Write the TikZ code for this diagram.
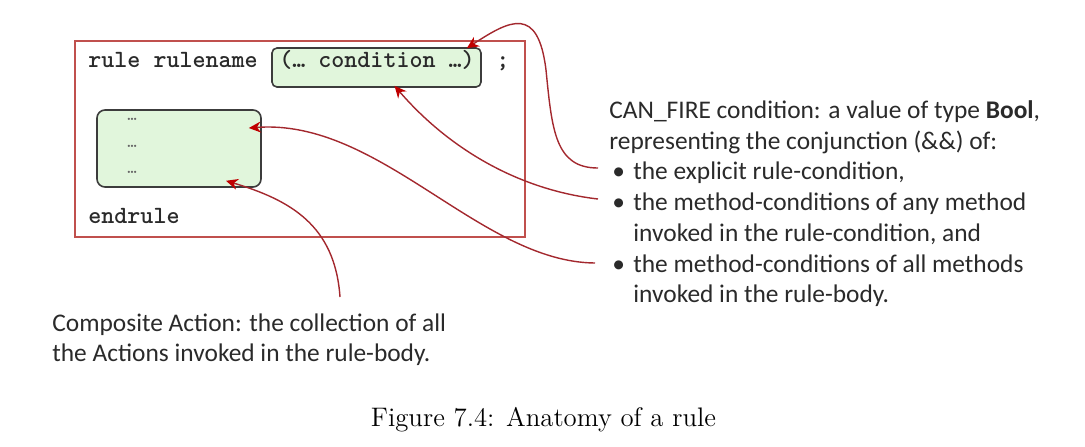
\documentclass[tikz,border=0pt]{standalone}
\usepackage{fontspec}
\newfontfamily\calib{Carlito}
\usetikzlibrary{arrows.meta,calc}
\definecolor{boxred}{HTML}{C0504D}
\definecolor{curvered}{HTML}{A3282E}
\definecolor{headred}{HTML}{C00000}
\definecolor{greenfill}{HTML}{E1F6DC}
\definecolor{greenedge}{HTML}{3C3C3C}
\definecolor{txt}{HTML}{2A2A2A}
\begin{document}
\begin{tikzpicture}[x=0.5pt,y=-0.5pt,
  outerbox/.style={draw=boxred, line width=1pt, minimum width=225pt, minimum height=98pt, inner sep=0pt},
  greenbox/.style={draw=greenedge, fill=greenfill, line width=0.8pt, inner sep=0pt},
  code/.style={font=\ttfamily\bfseries\fontsize{12.4}{14}\selectfont, text=txt, inner sep=0pt},
  dots/.style={font=\ttfamily\fontsize{9}{10}\selectfont, text=black!60, inner sep=0pt, anchor=base west},
  note/.style={font=\calib\fontsize{12.7}{15.4}\selectfont, text=txt, inner sep=0pt, anchor=base west},
  callout/.style={draw=curvered, line width=0.7pt, -{Stealth[length=6pt,width=5.5pt,color=headred]}},
]
\useasboundingbox (0,0) rectangle (1085,446);

% boxes
\node[outerbox] (rule) at (300,139) {};
\node[greenbox, rounded corners=2.5pt, minimum width=104.5pt, minimum height=19.5pt] (cond) at (376.5,67.5) {};
\node[greenbox, rounded corners=4pt, minimum width=82pt, minimum height=38.5pt] (body) at (179,148.5) {};

% code text
\node[code, anchor=base west] (kw) at (88,67) {rule rulename};
\node[code, anchor=base] (condtext) at (377,67) {(… condition …)};
\node[code, anchor=base west] (semi) at (496,67) {;};
\node[code, anchor=base west] (endrule) at (88,223) {endrule};
\node[dots] (d1) at (127,120) {…};
\node[dots] (d2) at (127,147) {…};
\node[dots] (d3) at (127,173) {…};

% right note
\node[note] (h1) at (609,118) {CAN\_FIRE condition: a value of type {\bfseries Bool},};
\node[note] (h2) at (609,149) {representing the conjunction (\&\&) of:};
\node[note] (i1) at (612,179) {\makebox[10.5pt][l]{•}the explicit rule-condition,};
\node[note] (i2) at (612,210) {\makebox[10.5pt][l]{•}the method-conditions of any method};
\node[note] (i2b) at (633,241) {invoked in the rule-condition, and};
\node[note] (i3) at (612,272) {\makebox[10.5pt][l]{•}the method-conditions of all methods};
\node[note] (i3b) at (633,302) {invoked in the rule-body.};

% bottom-left note
\node[note] (c1) at (52,331) {Composite Action: the collection of all};
\node[note] (c2) at (52,361) {the Actions invoked in the rule-body.};

% caption
\node[inner sep=0pt, anchor=base, font=\fontsize{13.4}{16}\selectfont] (cap) at (543.5,426) {Figure 7.4: Anatomy of a rule};

% connector ends
\coordinate (s1) at (598,168);
\coordinate (s2) at (598,199);
\coordinate (s3) at (595,263);
\coordinate (s4) at (340,297);

\draw[callout] (s1) .. controls (555,168) and (552,130) .. (546,70)
  .. controls (538,5) and (510,20) .. ([xshift=-7.5pt,yshift=-0.5pt]cond.north east);
\draw[callout] (s2) .. controls (520,190) and (450,150) .. ([xshift=9pt,yshift=1pt]cond.south);
\draw[callout] (s3) .. controls (480,262) and (380,118) .. ([xshift=-6.5pt,yshift=10.25pt]body.east);
\draw[callout] (s4) .. controls (335,225) and (290,200) .. ([xshift=23.5pt,yshift=3.5pt]body.south);
\end{tikzpicture}
\end{document}
